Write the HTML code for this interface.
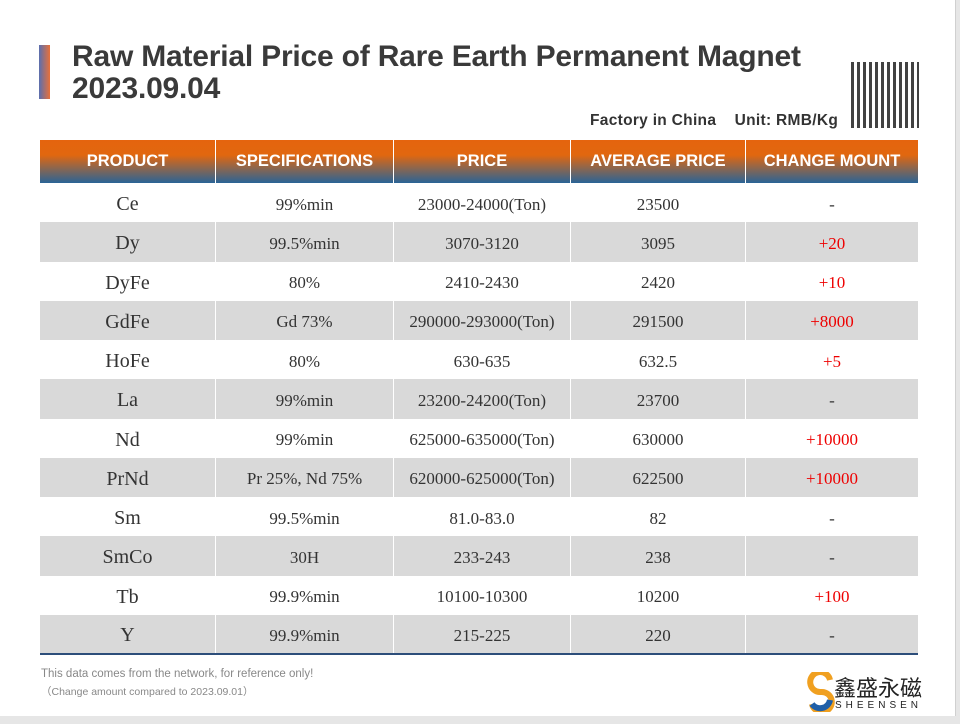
<!DOCTYPE html>
<html><head><meta charset="utf-8"><style>
body{margin:0;width:960px;height:724px;background:#e6e6e6;position:relative;overflow:hidden;font-family:"Liberation Sans",sans-serif}
.card{position:absolute;left:0;top:0;width:955px;height:716px;background:#fff;border-right:1px solid #d0d0d0}
.bar{position:absolute;left:39px;top:45px;width:11px;height:54px;background:linear-gradient(90deg,#5a6fb0,#e8703a)}
.t{position:absolute;left:72px;font-weight:bold;font-size:30px;color:#3a3a3a;letter-spacing:-0.2px}
.unit{position:absolute;left:590px;top:112px;font-size:15.5px;font-weight:bold;color:#333;letter-spacing:0.3px}
.qr{position:absolute;left:851px;top:62px;width:68px;height:66px;background:
repeating-linear-gradient(90deg,#222 0 3px,#fff 3px 6px),#fff;opacity:.85}
table{position:absolute;left:40px;top:140px;border-collapse:collapse;width:878px}
th{height:43px;color:#fff;font-size:16.5px;font-weight:bold;background:linear-gradient(180deg,#e5640e 0%,#e1670f 35%,#2a6496 100%);border-left:1px solid #fff;padding:0}
th:first-child,td:first-child{border-left:none}
td{height:39.25px;padding:4px 0 0 0;box-sizing:border-box;text-align:center;font-family:"Liberation Serif",serif;font-size:17px;color:#333;border-left:1px solid #fff}
td:first-child{font-size:20px}
tr.g td{background:#d9d9d9}
tr:last-child td{border-bottom:2px solid #2d4e7a}
.r{color:#e00}
.foot{position:absolute;left:41px;font-size:11.5px;color:#888}
.logo{position:absolute;left:806px;top:672px}
</style></head><body>
<div class="card"></div>
<div class="bar"></div>
<div class="t" style="top:40px">Raw Material Price of Rare Earth Permanent Magnet</div>
<div class="t" style="top:72px">2023.09.04</div>
<div class="unit">Factory in China &nbsp;&nbsp;&nbsp;Unit: RMB/Kg</div>
<div class="qr"></div>
<table>
<tr><th style="width:175px">PRODUCT</th><th style="width:177px">SPECIFICATIONS</th><th style="width:176px">PRICE</th><th style="width:174px">AVERAGE PRICE</th><th>CHANGE MOUNT</th></tr>
<tr><td>Ce</td><td>99%min</td><td>23000-24000(Ton)</td><td>23500</td><td>-</td></tr>
<tr class="g"><td>Dy</td><td>99.5%min</td><td>3070-3120</td><td>3095</td><td class="r">+20</td></tr>
<tr><td>DyFe</td><td>80%</td><td>2410-2430</td><td>2420</td><td class="r">+10</td></tr>
<tr class="g"><td>GdFe</td><td>Gd 73%</td><td>290000-293000(Ton)</td><td>291500</td><td class="r">+8000</td></tr>
<tr><td>HoFe</td><td>80%</td><td>630-635</td><td>632.5</td><td class="r">+5</td></tr>
<tr class="g"><td>La</td><td>99%min</td><td>23200-24200(Ton)</td><td>23700</td><td>-</td></tr>
<tr><td>Nd</td><td>99%min</td><td>625000-635000(Ton)</td><td>630000</td><td class="r">+10000</td></tr>
<tr class="g"><td>PrNd</td><td>Pr 25%, Nd 75%</td><td>620000-625000(Ton)</td><td>622500</td><td class="r">+10000</td></tr>
<tr><td>Sm</td><td>99.5%min</td><td>81.0-83.0</td><td>82</td><td>-</td></tr>
<tr class="g"><td>SmCo</td><td>30H</td><td>233-243</td><td>238</td><td>-</td></tr>
<tr><td>Tb</td><td>99.9%min</td><td>10100-10300</td><td>10200</td><td class="r">+100</td></tr>
<tr class="g"><td>Y</td><td>99.9%min</td><td>215-225</td><td>220</td><td>-</td></tr>
</table>
<div class="foot" style="top:668px">This data comes from the network, for reference only!</div>
<div class="foot" style="top:684px;font-size:10.5px">（Change amount compared to 2023.09.01）</div>
<div class="logo">
<svg width="30" height="40" style="position:absolute;left:0;top:0"><path d="M24 8 A10 10 0 1 0 15 20 A10 10 0 1 1 6 32" fill="none" stroke="#f0a020" stroke-width="6"/><path d="M6 32 A10 10 0 0 0 24 28" fill="none" stroke="#1f5fa8" stroke-width="6"/></svg>
<div style="position:absolute;left:28px;top:2px;font-family:'Noto Sans CJK SC',sans-serif;font-size:22px;color:#222;white-space:nowrap;line-height:26px">鑫盛永磁</div>
<div style="position:absolute;left:29px;top:28px;font-size:10px;letter-spacing:4px;color:#222">SHEENSEN</div>
</div>
</body></html>
